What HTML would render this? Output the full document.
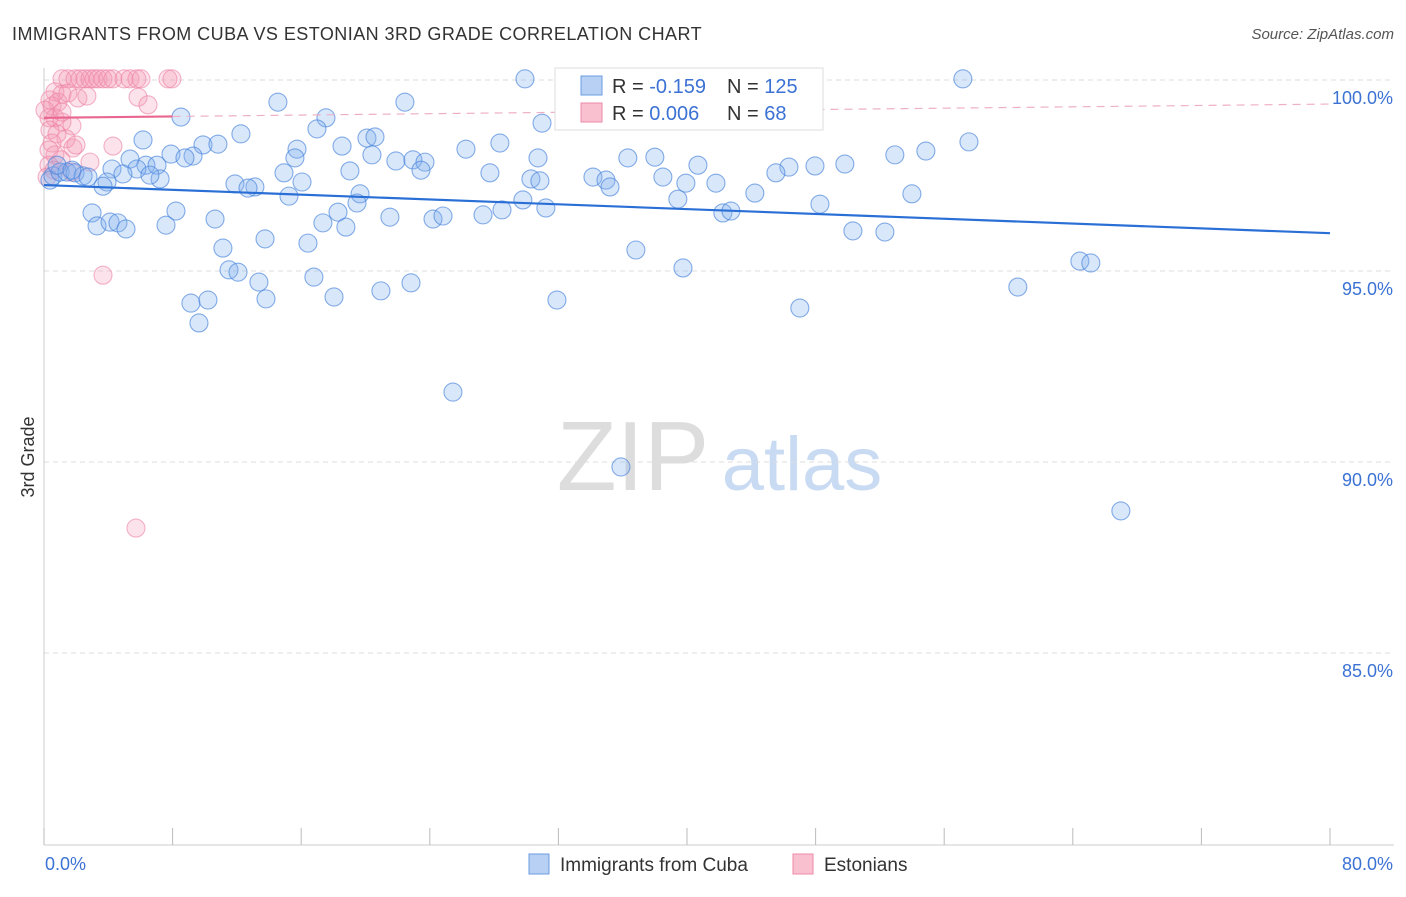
<!DOCTYPE html>
<html><head><meta charset="utf-8"><style>
body{margin:0;background:#fff;font-family:"Liberation Sans",sans-serif}
svg text{font-family:"Liberation Sans",sans-serif}
</style></head><body>
<svg id="c" width="1406" height="892">
<text x="12" y="40" font-size="18" fill="#333" letter-spacing="0.45">IMMIGRANTS FROM CUBA VS ESTONIAN 3RD GRADE CORRELATION CHART</text>
<text x="1394" y="39" font-size="15" fill="#555" text-anchor="end" font-style="italic">Source: ZipAtlas.com</text>
<text x="34" y="457" font-size="18" fill="#333" text-anchor="middle" transform="rotate(-90 34 457)">3rd Grade</text>
<g>
<text x="633" y="490" font-size="98" fill="#ddd" font-family="Liberation Serif" text-anchor="middle">ZIP</text>
<text x="802" y="490" font-size="76" fill="#c9dbf3" text-anchor="middle">atlas</text>
</g>
<g id="grid"></g><g id="axes"></g><g id="pts"></g><g id="trend"></g>
<g>
<rect x="555" y="68" width="268" height="62" fill="#fff" stroke="#ddd"/>
<rect x="581" y="76" width="21" height="19" fill="#b8d0f3" stroke="#6a9be0"/>
<rect x="581" y="103" width="21" height="19" fill="#f9c0d0" stroke="#ec8aa6"/>
<text x="612" y="93" font-size="20" fill="#333">R = <tspan fill="#3b72d4">-0.159</tspan></text>
<text x="727" y="93" font-size="20" fill="#333">N = <tspan fill="#3b72d4">125</tspan></text>
<text x="612" y="120" font-size="20" fill="#333">R = <tspan fill="#3b72d4">0.006</tspan></text>
<text x="727" y="120" font-size="20" fill="#333">N = <tspan fill="#3b72d4"> 68</tspan></text>
</g>
<g>
<rect x="529" y="854" width="20" height="20" fill="#b8d0f3" stroke="#6a9be0"/>
<text x="560" y="871" font-size="19" fill="#333">Immigrants from Cuba</text>
<rect x="793" y="854" width="20" height="20" fill="#f9c0d0" stroke="#ec8aa6"/>
<text x="824" y="871" font-size="19" fill="#333">Estonians</text>
</g>
</svg>
<script>
const yTicks=[100,95,90,85];
const yTickLabels=["100.0%","95.0%","90.0%","85.0%"];
const xTickLabels=["0.0%","80.0%"];
const cubaX=[29.92,57.16,14.55,22.45,8.52,17.54,30.98,6.16,12.25,20.09,20.59,28.36,57.54,9.89,10.82,15.74,18.54,26.25,16.98,7.90,9.27,8.77,5.35,15.61,20.40,21.89,22.95,23.70,30.73,36.32,38.00,52.93,54.86,49.82,47.96,46.34,40.68,6.34,7.03,5.78,4.23,4.91,7.22,6.59,14.93,19.03,23.45,27.74,34.15,38.50,45.53,3.92,3.67,11.88,13.12,12.69,16.05,30.29,30.85,34.96,35.21,39.93,41.80,15.24,19.66,19.47,29.79,44.22,39.43,53.99,31.22,48.27,2.99,8.21,10.64,18.29,21.52,24.20,24.82,27.31,28.49,42.23,42.73,3.30,4.11,4.60,5.10,7.59,17.35,18.78,13.75,16.42,11.13,50.32,52.31,36.82,11.51,12.07,16.79,13.37,22.83,20.96,39.75,64.44,65.12,60.58,9.14,10.20,13.81,18.04,31.91,47.02,9.64,25.44,35.89,66.99,0.37,0.56,1.00,1.43,1.93,2.43,2.74,0.81,1.74];
const cubaY=[100.03,100.03,99.42,99.42,99.03,99.01,98.87,98.43,98.59,98.48,98.51,98.35,98.38,98.30,98.32,98.19,98.27,98.19,98.72,98.06,98.01,97.96,97.93,97.96,98.04,97.88,97.91,97.85,97.96,97.96,97.98,98.04,98.14,97.80,97.75,97.72,97.77,97.77,97.77,97.67,97.67,97.54,97.41,97.51,97.57,97.62,97.64,97.57,97.46,97.46,97.57,97.33,97.22,97.28,97.20,97.17,97.33,97.41,97.36,97.38,97.20,97.30,97.30,96.96,97.02,96.78,96.86,97.04,96.88,97.02,96.65,96.75,96.52,96.57,96.36,96.54,96.41,96.36,96.44,96.47,96.60,96.52,96.57,96.18,96.28,96.26,96.10,96.20,96.26,96.15,95.84,95.73,95.60,96.05,96.02,95.55,95.03,94.97,94.84,94.71,94.69,94.48,95.08,95.26,95.21,94.58,94.16,94.24,94.27,94.32,94.24,94.03,93.64,91.83,89.87,88.72,97.38,97.49,97.59,97.59,97.57,97.49,97.46,97.77,97.64];
const estX=[1.12,1.49,1.93,2.24,2.55,2.86,3.11,3.36,3.67,3.98,4.29,4.98,5.35,5.78,6.03,7.71,7.96,0.68,1.12,2.11,2.67,5.85,6.47,0.50,0.87,1.49,0.31,0.68,1.12,1.74,0.37,0.81,1.37,0.50,1.80,1.99,4.29,0.31,0.68,1.06,2.86,0.31,0.62,1.74,0.19,3.67,5.72,1.12,0.37,0.06];
const estY=[100.03,100.03,100.03,100.03,100.03,100.03,100.03,100.03,100.03,100.03,100.03,100.03,100.03,100.03,100.03,100.03,100.03,99.69,99.63,99.53,99.58,99.55,99.35,99.32,99.42,99.66,99.01,99.01,98.90,98.80,98.69,98.59,98.46,98.35,98.22,98.30,98.27,98.17,98.04,97.91,97.85,97.77,97.64,97.59,97.46,94.89,88.27,99.16,99.48,99.21];
const cubaTrend=[97.25,95.99];
const estTrend=[99.01,99.37];

const NS="http://www.w3.org/2000/svg";
const X0=44,X1=1330,Y100=80,PXPER=38.2,BOTTOM=845;
const xs=p=>X0+(X1-X0)*p/80;
const ys=v=>Y100+(100-v)*PXPER;
function mk(tag,attrs,parent){const e=document.createElementNS(NS,tag);for(const k in attrs)e.setAttribute(k,attrs[k]);parent.appendChild(e);return e;}
const grid=document.getElementById('grid'),axes=document.getElementById('axes'),pts=document.getElementById('pts'),tr=document.getElementById('trend');
yTicks.forEach((t,i)=>{
 const l=mk('line',{x1:X0,x2:1394,y1:ys(t),y2:ys(t),stroke:'#ddd','stroke-dasharray':'5,4'},grid);
 
 
 const tx=mk('text',{x:1393,y:ys(t)+24,'font-size':18,fill:'#3b72d4','text-anchor':'end'},axes);
 tx.textContent=yTickLabels[i];
 
 
});
let a=mk('line',{x1:X0,x2:X0,y1:68,y2:BOTTOM,stroke:'#ccc'},axes);


a=mk('line',{x1:X0,x2:1394,y1:BOTTOM,y2:BOTTOM,stroke:'#ccc'},axes);


for(let i=0;i<=10;i++){
 const t=mk('line',{x1:xs(i*8),x2:xs(i*8),y1:828,y2:BOTTOM,stroke:'#bbb'},axes);
 
 
}
let xl=mk('text',{x:45,y:870,'font-size':18,fill:'#3b72d4'},axes);xl.textContent=xTickLabels[0];


xl=mk('text',{x:1393,y:870,'font-size':18,fill:'#3b72d4','text-anchor':'end'},axes);xl.textContent=xTickLabels[1];


estX.forEach((x,i)=>{
 const c=mk('circle',{cx:xs(x),cy:ys(estY[i]),r:9,fill:'rgba(243,150,180,0.28)',stroke:'rgba(236,130,165,0.6)','stroke-width':1.1},pts);
 
 
});
cubaX.forEach((x,i)=>{
 const c=mk('circle',{cx:xs(x),cy:ys(cubaY[i]),r:9,fill:'rgba(130,175,240,0.3)',stroke:'rgba(70,130,220,0.65)','stroke-width':1.1},pts);
 
 
});
let l=mk('line',{x1:xs(0),x2:xs(80),y1:ys(cubaTrend[0]),y2:ys(cubaTrend[1]),stroke:'#2a6fd6','stroke-width':2.2},tr);


const ey=p=>estTrend[0]+(estTrend[1]-estTrend[0])*p/80;
l=mk('line',{x1:xs(0),x2:xs(8),y1:ys(ey(0)),y2:ys(ey(8)),stroke:'#e8668f','stroke-width':2.2},tr);


l=mk('line',{x1:xs(8),x2:xs(80),y1:ys(ey(8)),y2:ys(ey(80)),stroke:'#eeb0c4','stroke-width':1.2,'stroke-dasharray':'8,6'},tr);


</script>
</body></html>
